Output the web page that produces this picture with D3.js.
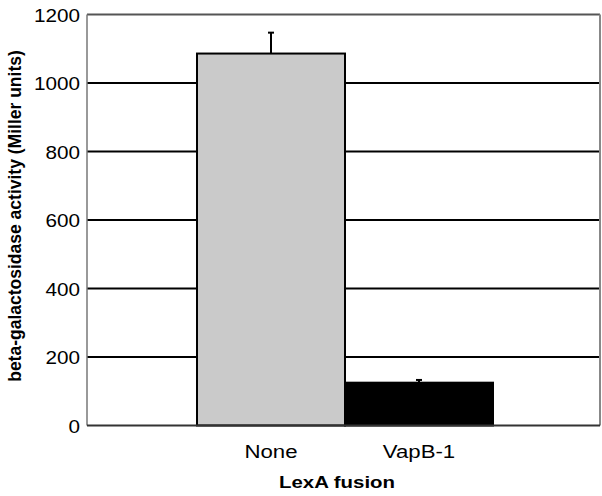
<!DOCTYPE html>
<html>
<head>
<meta charset="utf-8">
<script src="https://cdn.jsdelivr.net/npm/d3@7"></script>
<style>
  body { margin: 0; background: #fff; }
  text { font-family: "Liberation Sans", Arial, sans-serif; }
</style>
</head>
<body>
<div id="chart"></div>
<script>
// data
const categories = ["None", "VapB-1"];
const values = [1086, 125];
const errors = [61, 8];
const barColors = ["#cacaca", "#000000"];
const yTicks = [0, 200, 400, 600, 800, 1000, 1200];

const W = 602, H = 496;
const plot = { left: 87, right: 600, top: 14.5, bottom: 425.5 };

const svg = d3.select("#chart").append("svg")
  .attr("width", W).attr("height", H);

const y = d3.scaleLinear().domain([0, 1200]).range([plot.bottom, plot.top]);
const x = d3.scaleBand().domain(categories).range([197, 493]).padding(0);

// grid lines
svg.append("g")
  .selectAll("line")
  .data(yTicks.filter(d => d > 0 && d < 1200))
  .join("line")
  .attr("x1", plot.left).attr("x2", plot.right)
  .attr("y1", d => y(d)).attr("y2", d => y(d))
  .attr("stroke", "#000").attr("stroke-width", 2);

// plot frame
svg.append("line").attr("x1", plot.left).attr("x2", plot.right)
  .attr("y1", y(1200)).attr("y2", y(1200))
  .attr("stroke", "#555").attr("stroke-width", 2);
svg.append("line").attr("x1", plot.left).attr("x2", plot.left)
  .attr("y1", plot.top).attr("y2", plot.bottom)
  .attr("stroke", "#777").attr("stroke-width", 1.5);
svg.append("line").attr("x1", plot.right).attr("x2", plot.right)
  .attr("y1", plot.top).attr("y2", plot.bottom)
  .attr("stroke", "#888").attr("stroke-width", 2);

// error bars (upper only)
svg.append("g").selectAll("g")
  .data(categories)
  .join("g")
  .each(function(c, i) {
    const g = d3.select(this);
    const cx = x(c) + x.bandwidth() / 2;
    g.append("line").attr("x1", cx).attr("x2", cx)
      .attr("y1", y(values[i])).attr("y2", y(values[i] + errors[i]))
      .attr("stroke", "#000").attr("stroke-width", 2);
    g.append("line").attr("x1", cx - 3).attr("x2", cx + 3)
      .attr("y1", y(values[i] + errors[i])).attr("y2", y(values[i] + errors[i]))
      .attr("stroke", "#000").attr("stroke-width", 2);
  });

// bars
svg.append("g").selectAll("rect")
  .data(categories)
  .join("rect")
  .attr("x", d => x(d))
  .attr("y", (d, i) => y(values[i]))
  .attr("width", x.bandwidth())
  .attr("height", (d, i) => y(0) - y(values[i]))
  .attr("fill", (d, i) => barColors[i])
  .attr("stroke", "#000").attr("stroke-width", 2);

// bottom axis line
svg.append("line").attr("x1", plot.left).attr("x2", plot.right)
  .attr("y1", plot.bottom).attr("y2", plot.bottom)
  .attr("stroke", "#333").attr("stroke-width", 2);

// y tick labels (source font is a bit wider than Arial, so stretch)
svg.append("g").selectAll("text")
  .data(yTicks)
  .join("text")
  .attr("transform", d => `translate(80,${y(d)}) scale(1.15,1)`)
  .attr("dy", "0.4em")
  .attr("text-anchor", "end")
  .attr("font-size", 18)
  .text(d => d);

// x labels
svg.append("g").selectAll("text")
  .data(categories)
  .join("text")
  .attr("transform", d => `translate(${x(d) + x.bandwidth() / 2},458) scale(1.2,1)`)
  .attr("text-anchor", "middle")
  .attr("font-size", 18.5)
  .text(d => d);

// axis titles
svg.append("text")
  .attr("transform", "translate(337,488) scale(1.2,1)")
  .attr("text-anchor", "middle")
  .attr("font-size", 17).attr("font-weight", "bold")
  .text("LexA fusion");

svg.append("text")
  .attr("transform", "translate(21,216) rotate(-90)")
  .attr("text-anchor", "middle")
  .attr("font-size", 17.5).attr("font-weight", "bold")
  .text("beta-galactosidase activity (Miller units)");
</script>
</body>
</html>
